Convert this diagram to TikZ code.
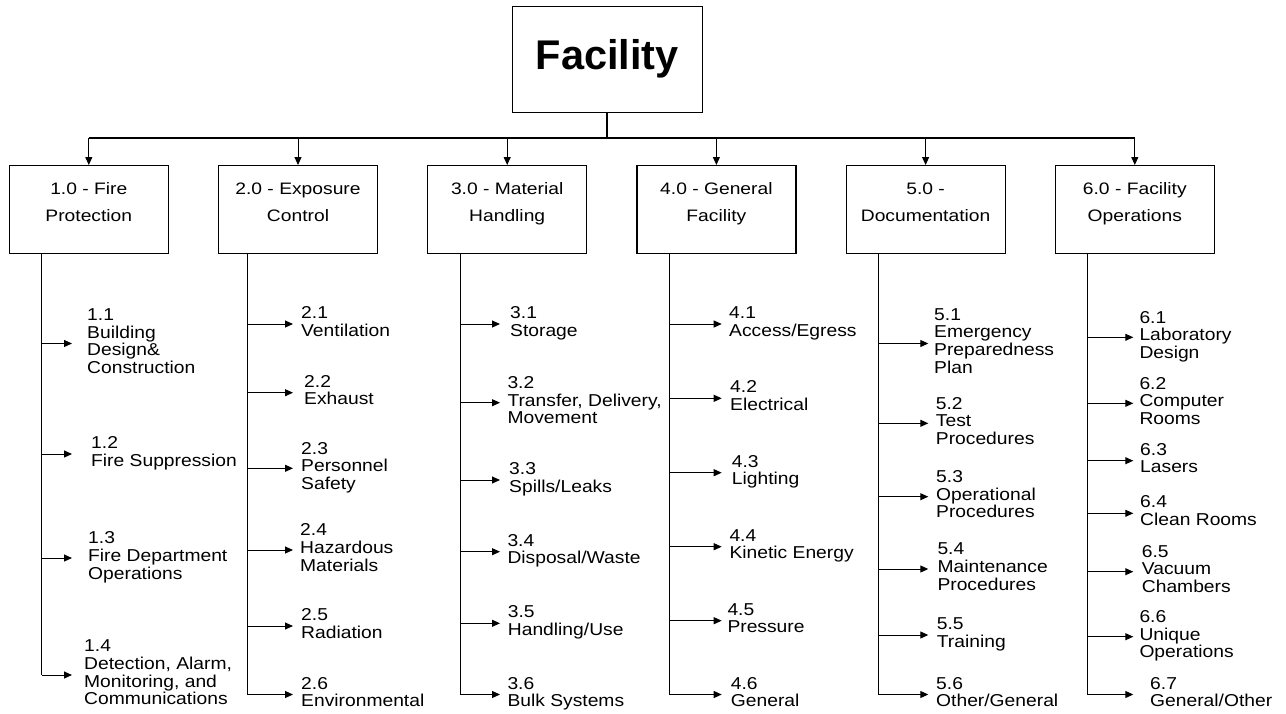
\documentclass[tikz,border=0pt]{standalone}
\usepackage{fontspec}
\setmainfont{Liberation Sans}
\newfontfamily\widefont{Liberation Sans}[FakeStretch=1.16]
\newfontfamily\subfont{Liberation Sans}[FakeStretch=1.12]
\usetikzlibrary{arrows.meta}
\newcommand\stk[1]{\begin{tabular}{@{}l@{}}#1\end{tabular}}
\newcommand\cstk[2]{\begin{tabular}{@{}c@{}}#1\\#2\rule[-22.9pt]{0pt}{1pt}\end{tabular}}
\begin{document}
\begin{tikzpicture}[x=1pt,y=-1pt,
  ln/.style={line width=1pt, draw=black},
  stem/.style={line width=1.5pt, draw=black},
  arr/.style={ln, -{Triangle[length=8pt,width=7pt]}},
  cat/.style={draw, line width=1.2pt, minimum width=159pt, minimum height=88pt, inner sep=0pt, anchor=north, font=\widefont\fontsize{16.6}{27}\selectfont},
  sub/.style={anchor=west, inner ysep=0pt, inner xsep=#1, font=\subfont\fontsize{17.2}{17.3}\selectfont},
  sub/.default=8pt,
  rootbox/.style={draw, line width=1.2pt, minimum width=190pt, minimum height=106pt, inner sep=0pt, font=\fontsize{41.5}{45}\selectfont\bfseries}
]
\useasboundingbox (0,0) rectangle (1286,713);
\fill[white] (0,0) rectangle (1286,713);

% root
\node[rootbox] (root) at (607.3,59.2) {Facility};
\coordinate (bus) at (607.3,138);
\draw[ln, line width=2pt] (root.south) -- (bus);

% categories
\node[cat] (c1) at (88.8,165) {\cstk{1.0 - Fire}{Protection}};
\node[cat] (c2) at (298,165) {\cstk{2.0 - Exposure}{Control}};
\node[cat] (c3) at (507.2,165) {\cstk{3.0 - Material}{Handling}};
\node[cat] (c4) at (716.4,165) {\cstk{4.0 - General}{Facility}};
\node[cat] (c5) at (925.6,165) {\cstk{5.0 -}{Documentation}};
\node[cat] (c6) at (1134.8,165) {\cstk{6.0 - Facility}{Operations}};

\draw[ln, line width=1.3pt] (c1.north |- bus) -- (c6.north |- bus);
\foreach \i in {1,...,6} \draw[arr] (c\i.north |- bus) -- (c\i.north);

% column 1
\coordinate (k11) at (41.7,343.5);
\coordinate (k12) at (41.7,454);
\coordinate (k13) at (41.7,558);
\coordinate (k14) at (41.7,675);
\node[sub=15pt] (s11) at (72,343.5) {\stk{1.1\\Building\\Design\&\\Construction}};
\node[sub=19pt] (s12) at (72,454) {\stk{1.2\\Fire Suppression}};
\node[sub=16pt] (s13) at (72,558) {\stk{1.3\\Fire Department\\Operations}};
\node[sub=12pt] (s14) at (72,675) {\stk{1.4\\Detection, Alarm,\\Monitoring, and\\Communications}};
\draw[stem] (c1.south -| k11) -- (k14);
\foreach \j in {1,...,4} \draw[arr] (k1\j) -- (s1\j.west);

% column 2
\coordinate (k21) at (247.7,324);
\coordinate (k22) at (247.7,392.7);
\coordinate (k23) at (247.7,468.3);
\coordinate (k24) at (247.7,550);
\coordinate (k25) at (247.7,626);
\coordinate (k26) at (247.7,694.5);
\node[sub=8pt] (s21) at (293,324) {\stk{2.1\\Ventilation}};
\node[sub=11pt] (s22) at (293,392.7) {\stk{2.2\\Exhaust}};
\node[sub=8pt] (s23) at (293,468.3) {\stk{2.3\\Personnel\\Safety}};
\node[sub=7pt] (s24) at (293,550) {\stk{2.4\\Hazardous\\Materials}};
\node[sub=8pt] (s25) at (293,626) {\stk{2.5\\Radiation}};
\node[sub=8pt] (s26) at (293,694.5) {\stk{2.6\\Environmental}};
\draw[stem] (c2.south -| k21) -- (k26);
\foreach \j in {1,...,6} \draw[arr] (k2\j) -- (s2\j.west);

% column 3
\coordinate (k31) at (460.7,324);
\coordinate (k32) at (460.7,402.7);
\coordinate (k33) at (460.7,480);
\coordinate (k34) at (460.7,551.7);
\coordinate (k35) at (460.7,623.3);
\coordinate (k36) at (460.7,694.5);
\node[sub=10pt] (s31) at (500,324) {\stk{3.1\\Storage}};
\node[sub=7.3pt] (s32) at (500,402.7) {\stk{3.2\\Transfer, Delivery,\\Movement}};
\node[sub=9pt] (s33) at (500,480) {\stk{3.3\\Spills/Leaks}};
\node[sub=7.3pt] (s34) at (500,551.7) {\stk{3.4\\Disposal/Waste}};
\node[sub=7.7pt] (s35) at (500,623.3) {\stk{3.5\\Handling/Use}};
\node[sub=7.3pt] (s36) at (500,694.5) {\stk{3.6\\Bulk Systems}};
\draw[stem] (c3.south -| k31) -- (k36);
\foreach \j in {1,...,6} \draw[arr] (k3\j) -- (s3\j.west);

% column 4
\coordinate (k41) at (669.3,324);
\coordinate (k42) at (669.3,398.3);
\coordinate (k43) at (669.3,472.7);
\coordinate (k44) at (669.3,546.7);
\coordinate (k45) at (669.3,620.7);
\coordinate (k46) at (669.3,694.5);
\node[sub=7.3pt] (s41) at (721.7,324) {\stk{4.1\\Access/Egress}};
\node[sub=8.3pt] (s42) at (721.7,398.3) {\stk{4.2\\Electrical}};
\node[sub=10pt] (s43) at (721.7,472.7) {\stk{4.3\\Lighting}};
\node[sub=7.6pt] (s44) at (721.7,546.7) {\stk{4.4\\Kinetic Energy}};
\node[sub=5.6pt] (s45) at (721.7,620.7) {\stk{4.5\\Pressure}};
\node[sub=9pt] (s46) at (721.7,694.5) {\stk{4.6\\General}};
\draw[stem] (c4.south -| k41) -- (k46);
\foreach \j in {1,...,6} \draw[arr] (k4\j) -- (s4\j.west);

% column 5
\coordinate (k51) at (878.3,343.5);
\coordinate (k52) at (878.3,423.3);
\coordinate (k53) at (878.3,496.7);
\coordinate (k54) at (878.3,569);
\coordinate (k55) at (878.3,635);
\coordinate (k56) at (878.3,694.5);
\node[sub=5.7pt] (s51) at (928.3,343.5) {\stk{5.1\\Emergency\\Preparedness\\Plan}};
\node[sub=7.4pt] (s52) at (928.3,423.3) {\stk{5.2\\Test\\Procedures}};
\node[sub=7.7pt] (s53) at (928.3,496.7) {\stk{5.3\\Operational\\Procedures}};
\node[sub=9pt] (s54) at (928.3,569) {\stk{5.4\\Maintenance\\Procedures}};
\node[sub=8.4pt] (s55) at (928.3,635) {\stk{5.5\\Training}};
\node[sub=7.7pt] (s56) at (928.3,694.5) {\stk{5.6\\Other/General}};
\draw[stem] (c5.south -| k51) -- (k56);
\foreach \j in {1,...,6} \draw[arr] (k5\j) -- (s5\j.west);

% column 6
\coordinate (k61) at (1087.3,337.3);
\coordinate (k62) at (1087.3,403.3);
\coordinate (k63) at (1087.3,460.7);
\coordinate (k64) at (1087.3,513.3);
\coordinate (k65) at (1087.3,571.7);
\coordinate (k66) at (1087.3,636.7);
\coordinate (k67) at (1087.3,694.5);
\node[sub=6pt] (s61) at (1133.3,337.3) {\stk{6.1\\Laboratory\\Design}};
\node[sub=6pt] (s62) at (1133.3,403.3) {\stk{6.2\\Computer\\Rooms}};
\node[sub=6.7pt] (s63) at (1133.3,460.7) {\stk{6.3\\Lasers}};
\node[sub=6.7pt] (s64) at (1133.3,513.3) {\stk{6.4\\Clean Rooms}};
\node[sub=8.4pt] (s65) at (1133.3,571.7) {\stk{6.5\\Vacuum\\Chambers}};
\node[sub=6pt] (s66) at (1133.3,636.7) {\stk{6.6\\Unique\\Operations}};
\node[sub=16.7pt] (s67) at (1133.3,694.5) {\stk{6.7\\General/Other}};
\draw[stem] (c6.south -| k61) -- (k67);
\foreach \j in {1,...,7} \draw[arr] (k6\j) -- (s6\j.west);
\end{tikzpicture}
\end{document}
